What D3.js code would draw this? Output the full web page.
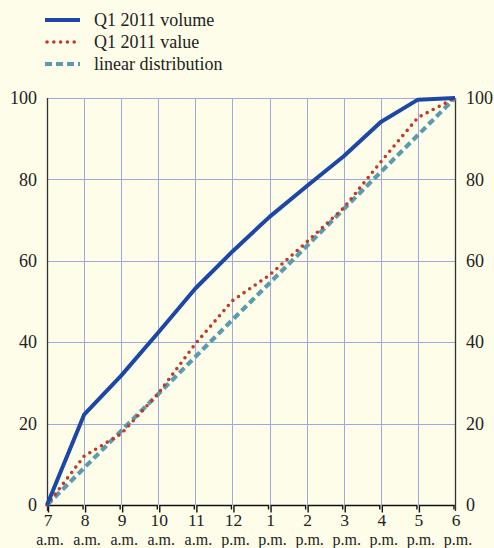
<!DOCTYPE html>
<html>
<head>
<meta charset="utf-8">
<script src="https://cdn.jsdelivr.net/npm/d3@7/dist/d3.min.js"></script>
<style>
  html, body { margin: 0; padding: 0; background: #fefde9; }
  svg { display: block; }
  text { font-family: "Liberation Serif", "Times New Roman", Times, serif !important; }
</style>
</head>
<body>
<svg id="chart" width="494" height="548"></svg>
<script>
// Hours of the trading day
const hours = ["7", "8", "9", "10", "11", "12", "1", "2", "3", "4", "5", "6"];
const periods = ["a.m.", "a.m.", "a.m.", "a.m.", "a.m.", "p.m.", "p.m.", "p.m.", "p.m.", "p.m.", "p.m.", "p.m."];

// Cumulative share (%) by hour
const volume = [0, 22.2, 31.8, 42.4, 53.2, 62.3, 70.8, 78.3, 85.7, 94.1, 99.6, 100];
const value = [0, 12.0, 17.5, 27.4, 39.6, 50.2, 56.5, 64.6, 73.0, 84.3, 95.2, 100];
const linear = [0, 9.1, 18.2, 27.3, 36.4, 45.5, 54.5, 63.6, 72.7, 81.8, 90.9, 100];

const yTicks = [0, 20, 40, 60, 80, 100];

const series = [
  { name: "Q1 2011 volume", data: volume, color: "#1c47a6", width: 4, dash: null, cap: "butt" },
  { name: "Q1 2011 value", data: value, color: "#c0392b", width: 3.6, dash: "0 6.8", cap: "round" },
  { name: "linear distribution", data: linear, color: "#5b9bb0", width: 4.2, dash: "7 4", cap: "butt" }
];

const FONT = "Liberation Serif, Times New Roman, serif";
const svg = d3.select("#chart");
const plotL = 47, plotR = 455, plotT = 98, plotB = 505;

const x = d3.scalePoint().domain(d3.range(hours.length)).range([plotL, plotR]);
const y = d3.scaleLinear().domain([0, 100]).range([plotB, plotT]);

// Grid
const grid = svg.append("g").attr("stroke", "#a0a8e0").attr("stroke-width", 1);
grid.selectAll("line.h").data(yTicks.filter(d => d > 0)).join("line")
  .attr("x1", plotL).attr("x2", plotR)
  .attr("y1", d => Math.round(y(d)) + 0.5).attr("y2", d => Math.round(y(d)) + 0.5);
grid.selectAll("line.v").data(d3.range(1, hours.length - 1)).join("line")
  .attr("x1", d => Math.round(x(d)) + 0.5).attr("x2", d => Math.round(x(d)) + 0.5)
  .attr("y1", plotT).attr("y2", plotB);

// Vertical axes (labels only, line drawn separately)
const yLeft = d3.axisLeft(y).tickValues(yTicks).tickSize(0).tickPadding(10);
const yRight = d3.axisRight(y).tickValues(yTicks).tickSize(0).tickPadding(11);
const gl = svg.append("g").attr("transform", `translate(${plotL},0)`).call(yLeft);
const gr = svg.append("g").attr("transform", `translate(${plotR},0)`).call(yRight);
[gl, gr].forEach(g => {
  g.attr("font-family", FONT).attr("font-size", 18);
  g.select(".domain").remove();
  g.selectAll("text").attr("fill", "#222");
});
svg.append("line").attr("x1", plotL + 0.5).attr("x2", plotL + 0.5).attr("y1", plotT).attr("y2", plotB + 6)
  .attr("stroke", "#333").attr("stroke-width", 1.3);
svg.append("line").attr("x1", plotR + 0.5).attr("x2", plotR + 0.5).attr("y1", plotT).attr("y2", plotB + 6)
  .attr("stroke", "#333").attr("stroke-width", 1.3);

// Bottom axis: bracket segment per hour interval
const xa = svg.append("g").attr("fill", "none").attr("stroke", "#111").attr("stroke-width", 1.4);
xa.selectAll("path").data(d3.range(hours.length - 1)).join("path")
  .attr("d", i => {
    const x0 = x(i) + 1.5, x1 = x(i + 1) - 1, yb = plotB + 0.5;
    return `M${x0},${yb + 7}V${yb}H${x1}V${yb + 4}`;
  });

// Hour labels with their a.m./p.m. line beneath
const xl = svg.append("g").attr("font-family", FONT).attr("fill", "#222").attr("text-anchor", "middle");
xl.selectAll("text.h").data(hours).join("text")
  .attr("font-size", 17.5)
  .attr("x", (d, i) => x(i) + 1).attr("y", 525.5).text(d => d);
xl.selectAll("text.p").data(periods).join("text")
  .attr("font-size", 16)
  .attr("x", (d, i) => x(i) + 3).attr("y", 544.5).text(d => d);

// Lines
const line = d3.line().x((d, i) => x(i)).y(d => y(d));
svg.append("g").selectAll("path").data(series.slice().reverse()).join("path")
  .attr("d", s => line(s.data))
  .attr("fill", "none")
  .attr("stroke", s => s.color)
  .attr("stroke-width", s => s.width)
  .attr("stroke-dasharray", s => s.dash)
  .attr("stroke-linecap", s => s.cap)
  .attr("stroke-linejoin", "round");

// Legend
const lg = svg.append("g").attr("font-family", FONT).selectAll("g").data(series).join("g")
  .attr("transform", (d, i) => `translate(0,${20 + i * 22})`);
lg.append("line").attr("x1", s => s.cap === "round" ? 47 : 45).attr("x2", 80).attr("y1", 0).attr("y2", 0)
  .attr("stroke", s => s.color).attr("stroke-width", s => s.width)
  .attr("stroke-dasharray", s => s.dash).attr("stroke-linecap", s => s.cap);
lg.append("text").attr("x", 94).attr("y", 6).attr("font-size", 18).attr("fill", "#222")
  .text(s => s.name);
</script>
</body>
</html>
